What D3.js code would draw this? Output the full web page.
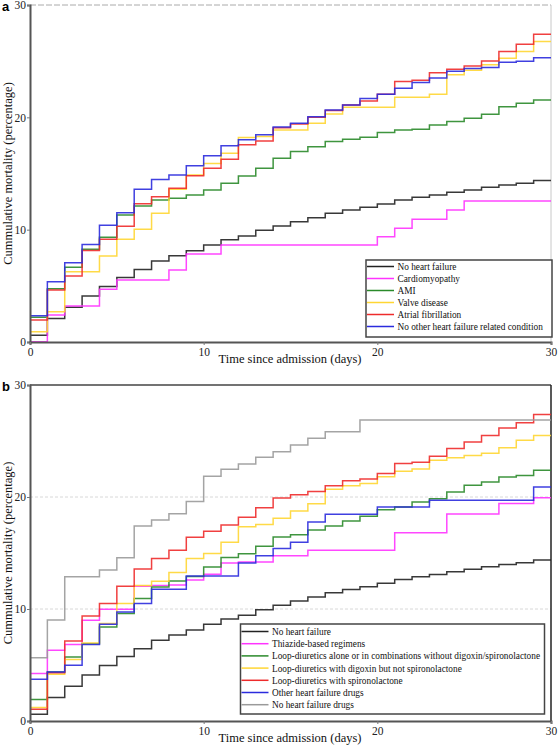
<!DOCTYPE html>
<html><head><meta charset="utf-8">
<script src="https://cdn.jsdelivr.net/npm/d3@7"></script>
<style>body{margin:0;background:#fff}svg{display:block}
svg text{font-family:"Liberation Serif","DejaVu Serif",serif}
svg text.lab{font-family:"Liberation Sans","DejaVu Sans",sans-serif;font-weight:bold}
</style>
</head><body><svg id="c" width="558" height="751"></svg>
<script>
// ---------- DATA ----------
const days = d3.range(0, 30); // step starts, day 0..29 (each value holds until next day)
const xTicks = [0, 10, 20, 30];
const yTicks = [0, 10, 20, 30];
const xTitle = "Time since admission (days)";
const yTitle = "Cummulative mortality (percentage)";

// Panel a
const namesA = ["No heart failure", "Cardiomyopathy", "AMI", "Valve disease", "Atrial fibrillation", "No other heart failure related condition"];
const colorsA = ["#222222", "#ff33ff", "#2a8a2a", "#ffd633", "#ee2b2b", "#2b2bdd"];
const noHF = [0.6, 2.1, 3.1, 4.1, 4.95, 5.75, 6.45, 7.2, 7.67, 8.13, 8.64, 9.1, 9.44, 9.94, 10.33, 10.71, 11.07, 11.46, 11.75, 11.99, 12.29, 12.64, 12.88, 13.09, 13.33, 13.54, 13.77, 13.98, 14.13, 14.37];
const cardiomyopathy = [0.03, 2.4, 3.2, 3.2, 4.69, 5.52, 5.52, 5.52, 6.4, 7.84, 7.84, 8.64, 8.64, 8.64, 8.64, 8.64, 8.64, 8.64, 8.64, 8.64, 9.38, 10.12, 10.92, 10.92, 11.75, 12.56, 12.56, 12.56, 12.56, 12.56];
const ami = [2.2, 4.75, 6.65, 8.25, 9.32, 11.3, 12.1, 12.64, 12.8, 13.09, 13.54, 14.13, 14.78, 15.47, 16.36, 16.95, 17.39, 17.84, 18.04, 18.22, 18.64, 18.88, 18.94, 19.32, 19.62, 19.92, 20.27, 20.95, 21.25, 21.55];
const valve = [0.92, 2.7, 6.25, 6.25, 7.66, 9.14, 10.03, 11.46, 13.6, 14.87, 15.9, 16.8, 18.2, 18.3, 18.88, 18.88, 19.47, 20.3, 20.9, 20.9, 20.9, 21.79, 21.79, 22.05, 23.78, 24.2, 24.67, 25.26, 25.85, 26.74];
const atrialFib = [1.96, 4.63, 5.88, 8.15, 9.15, 10.3, 12.3, 12.94, 13.69, 14.8, 15.47, 16.27, 17.55, 17.9, 19.07, 19.4, 20.0, 20.6, 21.1, 21.46, 22.06, 23.2, 23.3, 23.98, 24.28, 24.58, 25.02, 25.85, 26.5, 27.4];
const noOtherCond = [2.34, 5.37, 7.06, 8.68, 10.39, 11.5, 13.6, 14.47, 14.86, 15.68, 16.58, 17.48, 18.0, 18.45, 19.14, 19.48, 20.06, 20.66, 21.1, 21.67, 22.06, 22.6, 23.1, 23.5, 24.1, 24.35, 24.43, 24.9, 25.0, 25.3];
const valuesA = [noHF, cardiomyopathy, ami, valve, atrialFib, noOtherCond];

// Panel b
const namesB = ["No heart failure", "Thiazide-based regimens", "Loop-diuretics alone or in combinations without digoxin/spironolactone", "Loop-diuretics with digoxin but not spironolactone", "Loop-diuretics with spironolactone", "Other heart failure drugs", "No heart failure drugs"];
const colorsB = ["#222222", "#ff33ff", "#2a8a2a", "#ffd633", "#ee2b2b", "#2b2bdd", "#9a9a9a"];
const thiazide = [4.23, 6.31, 6.82, 8.99, 9.97, 9.97, 12.03, 12.1, 12.15, 12.6, 13.1, 14.1, 14.2, 14.2, 14.75, 14.75, 15.24, 15.24, 15.24, 15.24, 15.24, 16.8, 16.8, 16.8, 18.48, 18.48, 18.48, 19.43, 19.43, 19.93];
const loopAlone = [1.91, 4.38, 5.71, 6.9, 8.39, 9.59, 10.93, 11.97, 12.5, 12.9, 13.75, 14.59, 14.94, 15.6, 16.43, 16.64, 17.05, 17.4, 17.85, 18.28, 18.87, 19.1, 19.55, 19.85, 20.45, 21.04, 21.34, 21.78, 21.93, 22.38];
const loopDigoxin = [1.2, 4.17, 5.5, 6.96, 8.7, 10.48, 12.1, 12.47, 13.25, 14.5, 14.95, 15.95, 17.35, 17.55, 18.1, 18.75, 19.4, 20.7, 21.0, 21.2, 21.8, 22.3, 22.5, 23.28, 23.5, 23.7, 23.9, 24.4, 25.06, 25.5];
const loopSpiro = [1.04, 4.3, 7.14, 9.38, 10.48, 12.03, 13.57, 14.5, 15.25, 16.4, 16.94, 17.5, 18.2, 19.05, 19.9, 20.2, 20.5, 21.0, 21.45, 21.6, 22.1, 22.98, 23.1, 23.63, 24.32, 24.9, 25.48, 26.16, 26.64, 27.36];
const otherDrugs = [3.72, 4.38, 4.97, 6.82, 8.63, 9.73, 10.48, 11.76, 11.76, 12.95, 12.95, 12.95, 14.1, 14.75, 15.4, 15.95, 17.77, 18.46, 18.46, 18.46, 19.1, 19.1, 19.1, 19.7, 19.7, 19.7, 19.7, 19.7, 19.7, 20.9];
const noDrugs = [5.65, 9.02, 12.88, 12.88, 13.48, 14.58, 17.4, 17.95, 18.5, 19.6, 21.85, 22.47, 22.95, 23.54, 24.05, 24.64, 25.24, 25.83, 25.83, 26.88, 26.88, 26.88, 26.88, 26.88, 26.88, 26.88, 26.88, 26.88, 26.88, 26.88];
const valuesB = [noHF, thiazide, loopAlone, loopDigoxin, loopSpiro, otherDrugs, noDrugs];

// ---------- DRAW ----------
const svg = d3.select("#c");
const x = d3.scaleLinear().domain([0, 30]).range([30, 551]);

function panel(cfg) {
  const y = d3.scaleLinear().domain([0, 30]).range([cfg.y0, cfg.y30]);
  const g = svg.append("g");

  if (cfg.grid) {
    g.selectAll("line.grid").data([10, 20]).join("line")
      .attr("x1", x(0)).attr("x2", x(30)).attr("y1", d => y(d)).attr("y2", d => y(d))
      .attr("stroke", "#d8d8d8").attr("stroke-width", 1).attr("stroke-dasharray", "3,2");
  }
  g.append("line").attr("x1", x(0)).attr("x2", x(30)).attr("y1", y(30)).attr("y2", y(30))
    .attr("stroke", cfg.box ? "#444" : "#aaa").attr("stroke-width", cfg.box ? 1.5 : 1)
    .attr("stroke-dasharray", cfg.box ? null : "6,2");
  g.append("line").attr("x1", x(30)).attr("x2", x(30)).attr("y1", y(30)).attr("y2", y(0))
    .attr("stroke", cfg.box ? "#222" : "#c8c8c8").attr("stroke-width", cfg.box ? 1.5 : 1);

  const line = d3.line().x(d => x(d[0])).y(d => y(d[1])).curve(d3.curveStepAfter);
  cfg.values.forEach((vals, i) => {
    const pts = days.map((d, j) => [d, vals[j]]);
    pts.push([30, vals[vals.length - 1]]);
    g.append("path").attr("d", line(pts)).attr("fill", "none")
      .attr("stroke", cfg.colors[i]).attr("stroke-width", 1.5).attr("opacity", 0.9);
  });

  const ay = g.append("g").attr("transform", `translate(${x(0)},0)`)
    .call(d3.axisLeft(y).tickValues(yTicks).tickSize(3).tickPadding(1));
  const ax = g.append("g").attr("transform", `translate(0,${y(0)})`)
    .call(d3.axisBottom(x).tickValues(xTicks).tickSize(3).tickPadding(3));
  [ax, ay].forEach(a => {
    a.attr("font-family", null);
    a.select(".domain").attr("stroke", "#555").attr("stroke-width", 2);
    a.selectAll(".tick line").attr("stroke", "#777");
    a.selectAll("text").style("font-size", "11.5px").attr("fill", "#222");
  });

  g.append("text").attr("x", 290).attr("y", cfg.y0 + 21).attr("text-anchor", "middle")
    .style("font-size", "12.5px").attr("fill", "#111").text(xTitle);
  g.append("text").attr("transform", `translate(12,${(cfg.y0 + cfg.y30) / 2}) rotate(-90)`)
    .attr("text-anchor", "middle").style("font-size", "12.5px").attr("fill", "#111").text(yTitle);
  g.append("text").attr("class", "lab").attr("x", 2).attr("y", cfg.y30 + 6)
    .style("font-size", "13px").attr("fill", "#000").text(cfg.label);

  const L = cfg.legend;
  const lg = g.append("g");
  lg.append("rect").attr("x", L.x).attr("y", L.y).attr("width", L.w).attr("height", L.h)
    .attr("fill", "#fff").attr("stroke", "#444").attr("stroke-width", 1.5);
  cfg.names.forEach((n, i) => {
    const cy = L.y + L.first + i * L.step;
    lg.append("line").attr("x1", L.x + 1).attr("x2", L.x + 28).attr("y1", cy).attr("y2", cy)
      .attr("stroke", cfg.colors[i]).attr("stroke-width", 1.5);
    lg.append("text").attr("x", L.x + 31.5).attr("y", cy + 3.5)
      .style("font-size", L.fs + "px").attr("fill", "#111").text(n);
  });
}

panel({ y0: 342, y30: 5, values: valuesA, colors: colorsA, names: namesA, label: "a", grid: false, box: false,
  legend: { x: 366, y: 260, w: 186, h: 77, first: 6.5, step: 12, fs: 9.3 } });
panel({ y0: 721, y30: 385, values: valuesB, colors: colorsB, names: namesB, label: "b", grid: true, box: true,
  legend: { x: 240.5, y: 624, w: 304, h: 90, first: 7.5, step: 12.2, fs: 9.3 } });
</script></body></html>
